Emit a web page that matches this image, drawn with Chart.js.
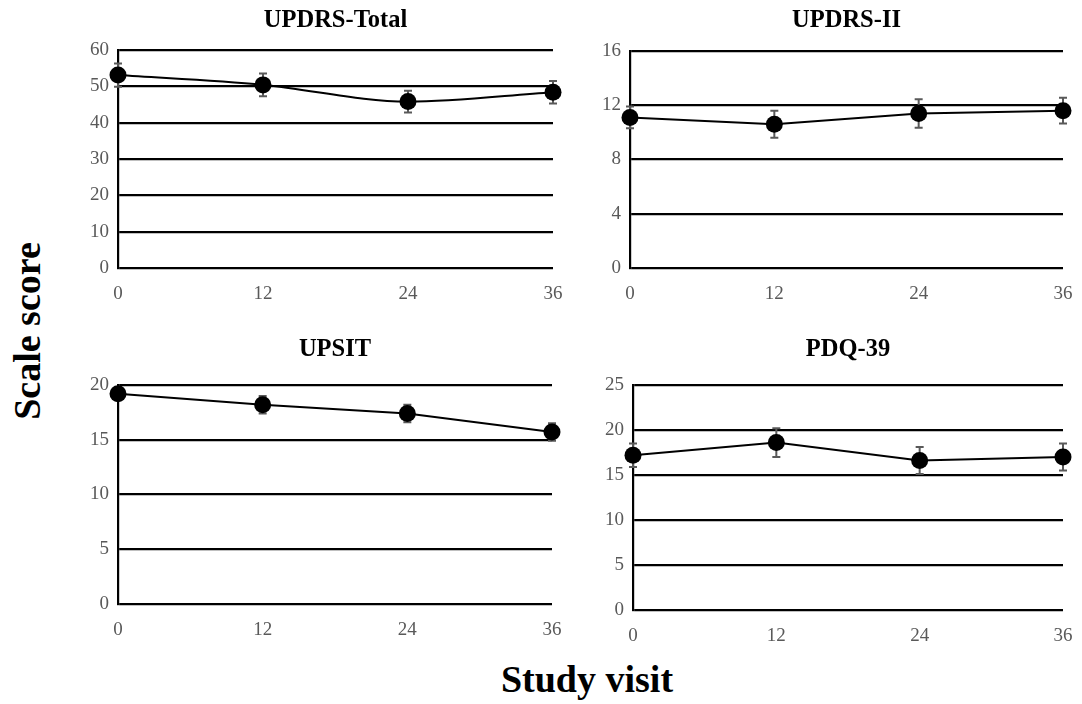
<!DOCTYPE html>
<html>
<head>
<meta charset="utf-8">
<script src="https://cdn.jsdelivr.net/npm/chart.js@4.4.1/dist/chart.umd.min.js"></script>
<style>
  html, body { margin: 0; padding: 0; background: #fff; }
  body { width: 1082px; height: 704px; position: relative; overflow: hidden; }
  .panel { position: absolute; }
  .big { position: absolute; font-family: 'Liberation Serif', 'Times New Roman', serif; font-weight: bold;
         font-size: 38px; line-height: 38px; height: 38px; text-align: center; color: #000; white-space: nowrap; }
</style>
</head>
<body>
<div class="big" style="left:-122.8px; top:312px; width:300px; transform: rotate(-90deg);">Scale score</div>
<div class="big" style="left:387px; top:660px; width:400px;">Study visit</div>

<script>
// study visits (months)
const visits = [0, 12, 24, 36];

// mean scores and error bar half-lengths
const updrsTotal = [53.1, 50.4, 45.8, 48.4];
const updrsTotalErr = [3.2, 3.1, 3.0, 3.1];

const updrsII = [11.1, 10.6, 11.4, 11.6];
const updrsIIErr = [0.8, 1.0, 1.05, 0.95];

const upsit = [19.2, 18.2, 17.4, 15.7];
const upsitErr = [0.4, 0.8, 0.8, 0.8];

const pdq39 = [17.2, 18.6, 16.6, 17.0];
const pdq39Err = [1.3, 1.6, 1.5, 1.5];

// y axis ranges / tick steps
const yMax = [60, 16, 20, 25];
const yStep = [10, 4, 5, 5];

const serif = "'Liberation Serif', 'Times New Roman', serif";

// error bars drawn under the points
const errorBars = {
	id: 'errorBars',
	beforeDatasetsDraw(chart, args, opts) {
		const { ctx } = chart;
		const xs = chart.scales.x, ys = chart.scales.y;
		const vals = chart.data.datasets[0].data;
		ctx.save();
		ctx.strokeStyle = '#595959';
		ctx.lineWidth = 2;
		vals.forEach((p, i) => {
			const x = xs.getPixelForValue(p.x);
			const top = ys.getPixelForValue(p.y + opts.err[i]);
			const bot = ys.getPixelForValue(p.y - opts.err[i]);
			ctx.beginPath();
			ctx.moveTo(x, top); ctx.lineTo(x, bot);
			ctx.moveTo(x - 4, top); ctx.lineTo(x + 4, top);
			ctx.moveTo(x - 4, bot); ctx.lineTo(x + 4, bot);
			ctx.stroke();
		});
		ctx.restore();
	}
};

function makePanel(title, values, errs, max, step, area, titleY, smooth) {
	const yW = 70, rightPad = 20, gap = 50, xH = 40;
	const left = area.left - yW, top = area.top - gap;
	const width = area.right + rightPad - left, height = area.bottom + xH - top;
	const lineH = 24.5 * 1.2;
	const padTop = Math.max(0, titleY - top - lineH / 2);

	const div = document.createElement('div');
	div.className = 'panel';
	div.style.left = left + 'px';
	div.style.top = top + 'px';
	div.style.width = width + 'px';
	div.style.height = height + 'px';
	const cv = document.createElement('canvas');
	div.appendChild(cv);
	document.body.appendChild(div);

	new Chart(cv, {
		type: 'line',
		data: {
			datasets: [{
				data: visits.map((v, i) => ({ x: v, y: values[i] })),
				borderColor: '#000',
				borderWidth: 2,
				backgroundColor: '#000',
				pointRadius: 8.5,
				pointBackgroundColor: '#000',
				pointBorderWidth: 0,
				cubicInterpolationMode: smooth ? 'monotone' : 'default',
				tension: 0,
				clip: false
			}]
		},
		options: {
			responsive: true,
			maintainAspectRatio: false,
			animation: false,
			layout: { padding: { left: 0, right: rightPad, top: 0, bottom: 0 } },
			plugins: {
				legend: { display: false },
				tooltip: { enabled: false },
				title: {
					display: true,
					text: title,
					fullSize: false,
					color: '#000',
					font: { family: serif, size: 24.5, weight: 'bold', lineHeight: 1.2 },
					padding: { top: padTop, bottom: gap - padTop - lineH }
				},
				errorBars: { err: errs }
			},
			scales: {
				x: {
					type: 'linear',
					min: 0, max: 36,
					afterFit: s => { s.height = xH; },
					grid: { display: false },
					border: { display: false },
					ticks: { stepSize: 12, color: '#595959', padding: 7, maxRotation: 0,
						font: { family: serif, size: 19 } }
				},
				y: {
					min: 0, max: max,
					afterFit: s => { s.width = yW; },
					grid: { color: '#000', lineWidth: 2.2, drawTicks: false },
					border: { display: true, color: '#000', width: 2.2 },
					ticks: { stepSize: step, color: '#595959', padding: 9,
						font: { family: serif, size: 19 } }
				}
			}
		},
		plugins: [errorBars]
	});
}

makePanel('UPDRS-Total', updrsTotal, updrsTotalErr, yMax[0], yStep[0],
	{ left: 118, right: 553, top: 50, bottom: 268 }, 21, true);
makePanel('UPDRS-II', updrsII, updrsIIErr, yMax[1], yStep[1],
	{ left: 630, right: 1063, top: 51, bottom: 268 }, 21, false);
makePanel('UPSIT', upsit, upsitErr, yMax[2], yStep[2],
	{ left: 118, right: 552, top: 385, bottom: 604 }, 348.5, false);
makePanel('PDQ-39', pdq39, pdq39Err, yMax[3], yStep[3],
	{ left: 633, right: 1063, top: 385, bottom: 610 }, 348.5, false);
</script>
</body>
</html>
